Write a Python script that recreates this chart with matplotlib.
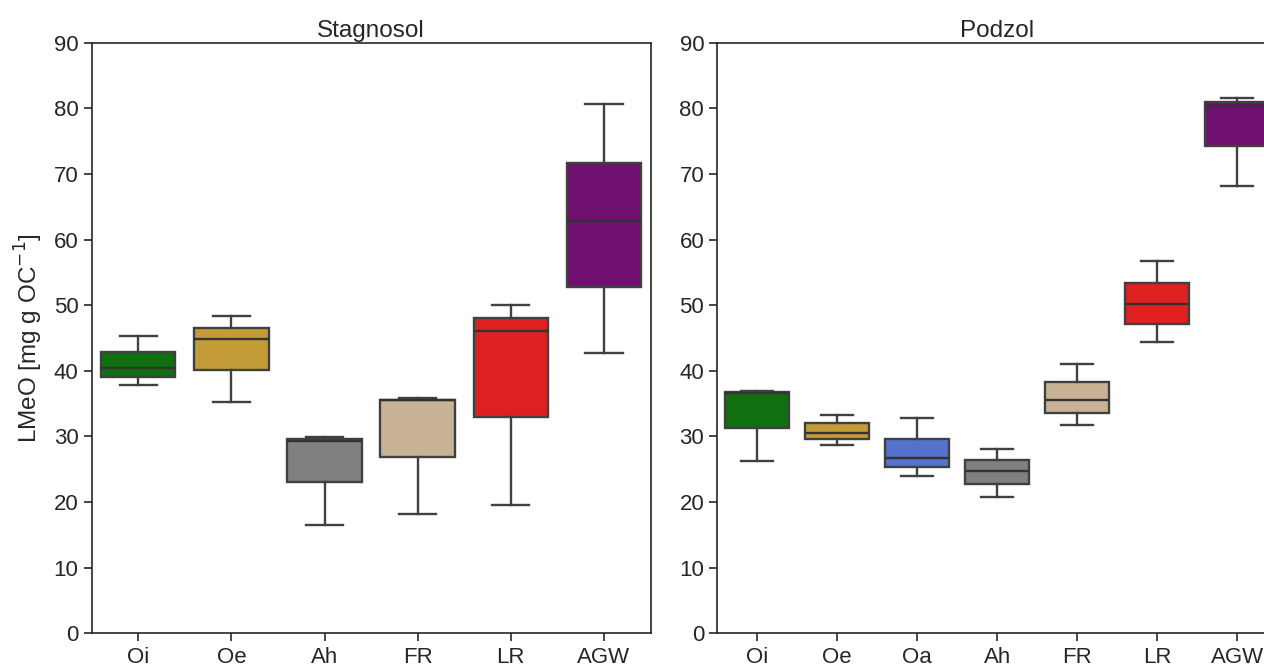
import colorsys
import matplotlib
matplotlib.use('Agg')
import matplotlib.pyplot as plt
import matplotlib.colors as mcolors

# box statistics per horizon (lower whisker, Q1, median, Q3, upper whisker)
stag_labels = ['Oi', 'Oe', 'Ah', 'FR', 'LR', 'AGW']
stag_whislo = [37.8, 35.2, 16.5, 18.2, 19.5, 42.7]
stag_q1 = [39.0, 40.2, 23.0, 26.8, 32.9, 52.8]
stag_med = [40.4, 44.9, 29.3, 35.5, 46.1, 62.9]
stag_q3 = [42.9, 46.6, 29.6, 35.6, 48.0, 71.7]
stag_whishi = [45.3, 48.3, 29.9, 35.8, 50.0, 80.7]
stag_colors = ['green', 'goldenrod', 'grey', 'tan', 'red', 'purple']

podz_labels = ['Oi', 'Oe', 'Oa', 'Ah', 'FR', 'LR', 'AGW']
podz_whislo = [26.2, 28.7, 24.0, 20.8, 31.7, 44.4, 68.1]
podz_q1 = [31.3, 29.6, 25.3, 22.8, 33.6, 47.2, 74.2]
podz_med = [36.7, 30.5, 26.7, 24.7, 35.6, 50.2, 80.3]
podz_q3 = [36.8, 32.0, 29.6, 26.4, 38.3, 53.4, 80.9]
podz_whishi = [36.9, 33.2, 32.8, 28.1, 41.0, 56.7, 81.6]
podz_colors = ['green', 'goldenrod', 'royalblue', 'grey', 'tan', 'red', 'purple']

plt.rcParams['font.family'] = ['Liberation Sans', 'DejaVu Sans']

line_col = '#404040'


def desaturate(c, prop=0.75):
    h, l, s = colorsys.rgb_to_hls(*mcolors.to_rgb(c))
    return colorsys.hls_to_rgb(h, l, s * prop)


def draw_panel(ax, labels, whislo, q1, med, q3, whishi, colors, title):
    stats = []
    for i in range(len(labels)):
        stats.append({'whislo': whislo[i], 'q1': q1[i], 'med': med[i],
                      'q3': q3[i], 'whishi': whishi[i], 'fliers': []})
    bp = ax.bxp(stats, positions=range(len(labels)), widths=0.8,
                capwidths=0.4, patch_artist=True, showfliers=False,
                boxprops=dict(edgecolor=line_col, linewidth=1.7),
                whiskerprops=dict(color=line_col, linewidth=1.7),
                capprops=dict(color=line_col, linewidth=1.7),
                medianprops=dict(color='#333333', linewidth=1.7))
    for patch, c in zip(bp['boxes'], colors):
        patch.set_facecolor(desaturate(c))
    ax.set_xticks(range(len(labels)))
    ax.set_xticklabels(labels)
    ax.set_xlim(-0.5, len(labels) - 0.5)
    ax.set_ylim(0, 90)
    ax.set_yticks(range(0, 91, 10))
    ax.set_title(title, fontsize=17.5, color='#262626', pad=4)
    ax.tick_params(labelsize=16, length=6, width=1.2, colors='#262626')
    for sp in ax.spines.values():
        sp.set_linewidth(1.2)
        sp.set_color('#262626')


fig = plt.figure(figsize=(12.64, 6.67), dpi=100)
ax1 = fig.add_axes([0.0725, 0.0504, 0.4422, 0.8856])
ax2 = fig.add_axes([0.5675, 0.0504, 0.4430, 0.8856])

draw_panel(ax1, stag_labels, stag_whislo, stag_q1, stag_med, stag_q3,
           stag_whishi, stag_colors, 'Stagnosol')
draw_panel(ax2, podz_labels, podz_whislo, podz_q1, podz_med, podz_q3,
           podz_whishi, podz_colors, 'Podzol')

ax1.set_ylabel('LMeO [mg g OC$^{-1}$]', fontsize=17.5, color='#262626',
               labelpad=6)

fig.savefig('out.png', dpi=100)
